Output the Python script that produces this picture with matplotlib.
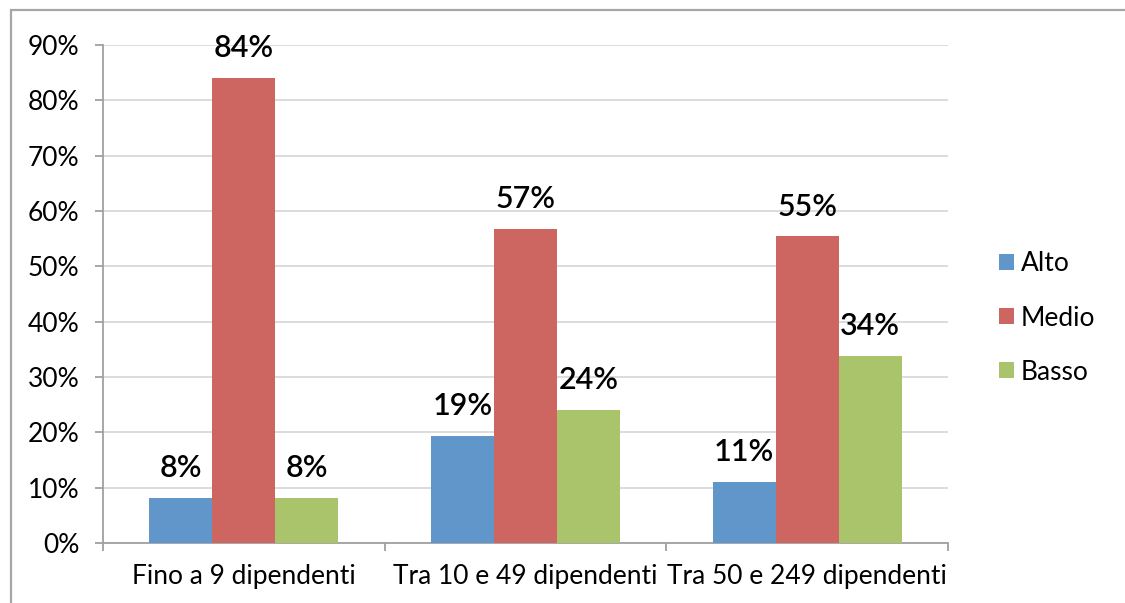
import matplotlib
matplotlib.use("Agg")
import matplotlib.pyplot as plt
import numpy as np
from matplotlib.patches import Rectangle, Patch

plt.rcParams['font.family'] = ['Lato', 'DejaVu Sans']

categories = ["Fino a 9 dipendenti", "Tra 10 e 49 dipendenti", "Tra 50 e 249 dipendenti"]
series_names = ["Alto", "Medio", "Basso"]
alto = [8.2, 19.4, 11.1]
medio = [84.0, 56.8, 55.4]
basso = [8.1, 24.1, 33.8]
yticks = [0, 10, 20, 30, 40, 50, 60, 70, 80, 90]
colors = ["#6096C9", "#CD6661", "#AAC46B"]

fig = plt.figure(figsize=(11.25, 6.03), dpi=100)
ax = fig.add_axes([103/1125, 1-543/603, (948-103)/1125, (543-45)/603])

x = np.arange(len(categories))
w = 0.2236
for i, (vals, c) in enumerate(zip([alto, medio, basso], colors)):
    pos = x + (i - 1) * w
    ax.bar(pos, vals, width=w, color=c, edgecolor='none', zorder=3, label=series_names[i])
    for xp, v in zip(pos, vals):
        ax.annotate(f"{int(round(v))}%", (xp, v), xytext=(0, 15), textcoords='offset points',
                    ha='center', va='baseline', fontsize=22, fontweight='semibold', color='black')

ax.set_xlim(-0.5, 2.5)
ax.set_ylim(0, 90)
ax.set_yticks(yticks)
ax.set_yticklabels([f"{t}%" for t in yticks], fontsize=19)
ax.yaxis.grid(True, color='#d9d9d9', linewidth=1.3, zorder=0)
ax.set_axisbelow(True)

ax.set_xticks([-0.5, 0.5, 1.5, 2.5])
ax.set_xticklabels([])
ax.set_xticks(x, minor=True)
ax.set_xticklabels(categories, minor=True, fontsize=19)
ax.tick_params(axis='x', which='minor', length=0, pad=15)
ax.tick_params(axis='x', which='major', length=6, color='#a0a0a0', width=1.3, direction='out')
ax.tick_params(axis='y', length=6, color='#a0a0a0', width=1.3, direction='out', pad=11)

for s in ['top', 'right']:
    ax.spines[s].set_visible(False)
for s in ['left', 'bottom']:
    ax.spines[s].set_color('#a0a0a0')
    ax.spines[s].set_linewidth(1.3)

handles = [Patch(facecolor=c, edgecolor='none') for c in colors]
fig.legend(handles, series_names, loc='center left', bbox_to_anchor=(0.879, 1-318/603),
           frameon=False, fontsize=19, handlelength=0.55, handleheight=0.55,
           handletextpad=0.25, labelspacing=1.1, borderaxespad=0)

frame = Rectangle((11/1125, -0.1), 1.2, 1.1 - 10/603, transform=fig.transFigure,
                  fill=False, edgecolor='#a6a6a6', linewidth=1.6, clip_on=False)
fig.add_artist(frame)

fig.savefig("out.png", dpi=100)
